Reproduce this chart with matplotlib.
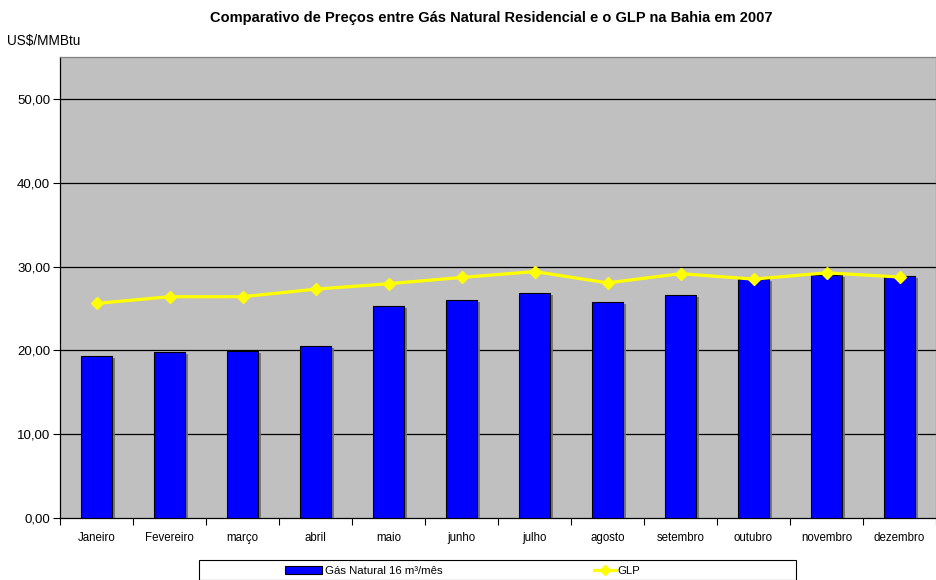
import numpy as np
import matplotlib.pyplot as plt
import matplotlib.patheffects as pe
from matplotlib.patches import Rectangle, Patch
from matplotlib.lines import Line2D

plt.rcParams['font.family'] = ['Liberation Sans', 'DejaVu Sans']

meses = ['Janeiro', 'Fevereiro', 'março', 'abril', 'maio', 'junho',
         'julho', 'agosto', 'setembro', 'outubro', 'novembro', 'dezembro']
gas_natural = [19.31, 19.84, 19.96, 20.52, 25.26, 25.98,
               26.85, 25.75, 26.60, 28.50, 29.00, 28.90]
glp = [25.60, 26.40, 26.40, 27.30, 27.95, 28.70,
       29.40, 28.05, 29.15, 28.50, 29.25, 28.75]
yticks = [0, 10, 20, 30, 40, 50]

W, H = 936, 580
fig = plt.figure(figsize=(W / 100, H / 100), dpi=100)
ax = fig.add_axes([60 / W, (H - 518) / H, 876 / W, (518 - 57) / H])
ax.set_facecolor('#C0C0C0')

x = np.arange(len(meses))
bars = ax.bar(x, gas_natural, width=0.43, color='#0000FF', edgecolor='black',
              linewidth=0.8, zorder=3)
for b in bars:
    b.set_path_effects([pe.SimplePatchShadow(offset=(2, -1.5), shadow_rgbFace='#707070', alpha=0.9),
                        pe.Normal()])
ax.plot(x, glp, color='#FFFF00', lw=2.3, marker='D', ms=6.5, zorder=4)

ax.set_xlim(-0.5, len(meses) - 0.5)
ax.set_ylim(0, 55)
ax.set_yticks(yticks)
ax.set_yticklabels([f'{v:.2f}'.replace('.', ',') for v in yticks], fontsize=9.5)
for v in yticks[1:]:
    ax.axhline(v, color='black', lw=0.9, zorder=1)

# ticks between categories, labels centered
ax.set_xticks(np.arange(-0.5, len(meses), 1))
ax.set_xticklabels([])
ax.set_xticks(x, minor=True)
ax.set_xticklabels(meses, minor=True, fontsize=8.3)
ax.tick_params(axis='x', which='major', length=5, width=0.8, direction='out')
ax.tick_params(axis='x', which='minor', length=0, pad=10)
ax.tick_params(axis='y', length=5, width=0.8, direction='out', pad=2)

for s in ['left', 'bottom']:
    ax.spines[s].set_color('black')
    ax.spines[s].set_linewidth(0.9)
for s in ['top', 'right']:
    ax.spines[s].set_color('#808080')
    ax.spines[s].set_linewidth(0.9)

fig.text(491 / W, 1 - 18 / H,
         'Comparativo de Preços entre Gás Natural Residencial e o GLP na Bahia em 2007',
         ha='center', va='center', fontsize=10.5, fontweight='bold')
fig.text(7 / W, 1 - 41 / H, 'US$/MMBtu', ha='left', va='center', fontsize=9.8)

# legend box
fig.patches.append(Rectangle((199 / W, 0), (796 - 199) / W, (H - 560) / H,
                             transform=fig.transFigure, facecolor='white',
                             edgecolor='black', linewidth=0.8, zorder=0))
h1 = Patch(facecolor='#0000FF', edgecolor='black', linewidth=0.8)
h2 = Line2D([], [], color='#FFFF00', lw=2.3, marker='D', ms=5)
fig.legend([h1], ['Gás Natural 16 m³/mês'], loc='center left',
           bbox_to_anchor=(279 / W, 1 - 571 / H), frameon=False, fontsize=8.2,
           handlelength=3.3, handleheight=0.6, handletextpad=0.2, borderpad=0)
fig.legend([h2], ['GLP'], loc='center left',
           bbox_to_anchor=(588 / W, 1 - 571 / H), frameon=False, fontsize=8.2,
           handlelength=2.0, handletextpad=0.1, borderpad=0)

fig.savefig('out.png', dpi=100)
